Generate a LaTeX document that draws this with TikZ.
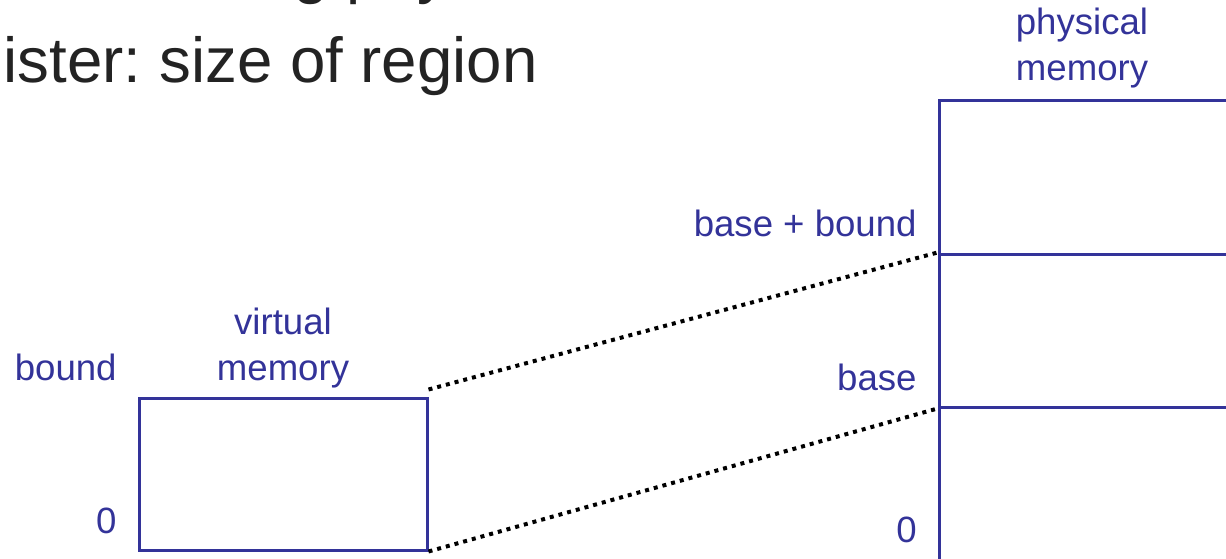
\documentclass[tikz,border=0pt]{standalone}
\usepackage{fontspec}
\setmainfont{Liberation Sans}
\usetikzlibrary{positioning}
\definecolor{SlideBlue}{RGB}{51,51,153}
\definecolor{SlideInk}{RGB}{35,35,35}
\frenchspacing

\begin{document}
\begin{tikzpicture}[x=0.5pt,y=-0.5pt,
  memlabel/.style={text=SlideBlue,font=\fontsize{18.3}{23}\selectfont,inner sep=0pt},
  membox/.style={draw=SlideBlue,line width=1.5pt,inner sep=0pt,minimum width=#1},
  mapline/.style={line width=2pt,dash pattern=on 2pt off 2.5pt}]
\useasboundingbox (0,0) rectangle (1226,558);
\clip (0,0) rectangle (1226,558);

% slide text, cut at the left and top
\node[anchor=base west,inner sep=0pt,text=SlideInk,font=\fontsize{31.8}{38}\selectfont]
  (line1) at (-290,-9) {Base register: starting physical address};
\node[anchor=base west,inner sep=0pt,text=SlideInk,font=\fontsize{31.8}{38}\selectfont]
  (line2) at (-290,82) {Bound register: size of region};

% virtual memory
\node[membox=144pt,minimum height=76pt] (virt) at (283,474) {};
\node[memlabel,align=center,anchor=base] (virtlbl) at (283,380) {virtual\\memory};
\node[memlabel,anchor=base east] (bnd) at (117,380) {bound};
\node[memlabel,anchor=base east] (vzero) at (117,533) {0};

% physical memory
\node[membox=155.5pt,minimum height=77pt] (ptop) at (1094.5,177) {};
\node[membox=155.5pt,minimum height=76.5pt] (pmid) at (1094.5,330.5) {};
\node[membox=155.5pt,minimum height=106.5pt] (pbot) at (1094.5,513.5) {};
\node[memlabel,align=center,anchor=base] (physlbl) at (1082,80) {physical\\memory};
\node[memlabel,anchor=base east] (bb) at (917,236) {base + bound};
\node[memlabel,anchor=base east] (bs) at (917,390) {base};
\node[memlabel,anchor=base east] (pzero) at (917,542) {0};

% mapping
\draw[mapline] ([yshift=3.5pt]virt.north east) -- (pmid.north west);
\draw[mapline] (virt.south east) -- (pmid.south west);
\end{tikzpicture}
\end{document}
